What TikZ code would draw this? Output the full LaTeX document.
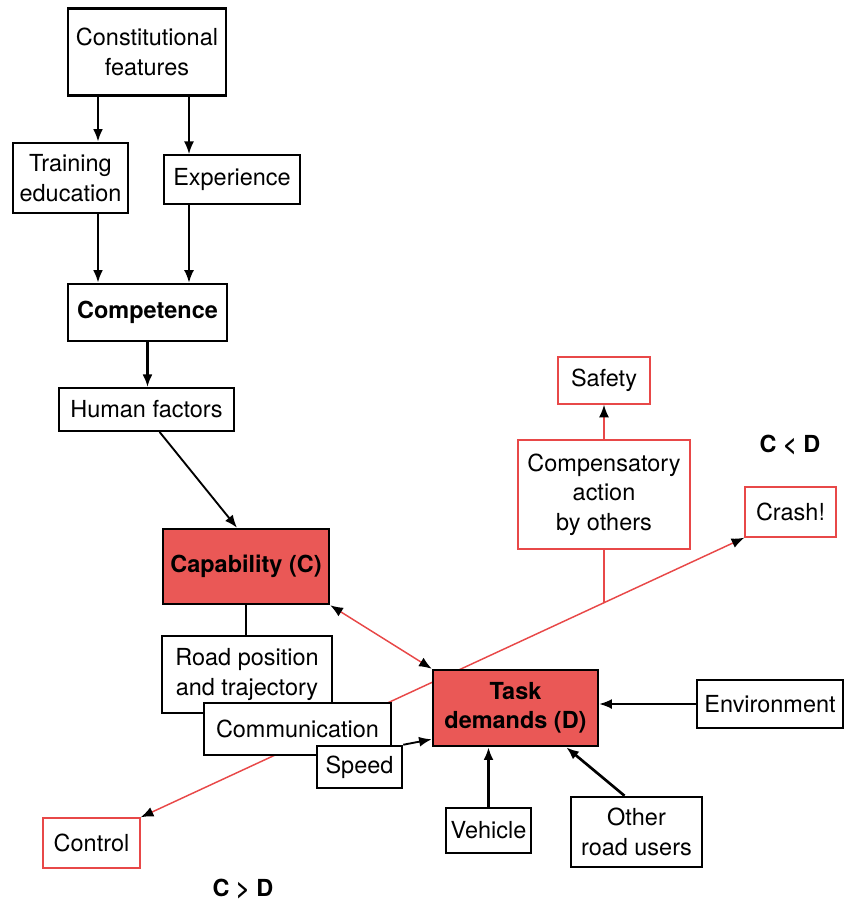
\documentclass[tikz,border=0pt]{standalone}
\usepackage{fontspec}
\setmainfont{TeX Gyre Heros}
\usetikzlibrary{arrows.meta, calc, backgrounds}

\definecolor{boxred}{RGB}{234,88,86}
\definecolor{linered}{RGB}{232,72,72}
\newcommand\diagfont{\fontsize{17.6}{22}\selectfont}

\tikzset{
  blacktip/.tip={Latex[length=9.5pt,width=7.5pt]},
  redtip/.tip={Latex[length=9.5pt,width=7.5pt,color=black]},
  sz/.style 2 args={minimum width=0.75*#1, minimum height=0.75*#2},
  box/.style={draw, fill=white, line width=1.3pt, align=center, inner sep=0pt, font=\diagfont},
  heavybox/.style={box, line width=1.9pt},
  redbox/.style={box, draw=linered, line width=1.1pt},
  keybox/.style={box, fill=boxred, line width=1.9pt, font=\diagfont\bfseries},
  flow/.style={-blacktip, line width=1.4pt},
  heavyflow/.style={-blacktip, line width=2pt},
  redline/.style={linered, line width=1.1pt},
}

\begin{document}
\begin{tikzpicture}[x=0.75pt, y=-0.75pt]
\useasboundingbox (0,0) rectangle (844,906);
\coordinate (colA) at (98,0);
\coordinate (colB) at (189,0);

% upper chain
\node[heavybox, sz={158}{87}] (const) at (147,52) {Constitutional\\features};
\node[heavybox, sz={115}{70}] (train) at (70.5,178) {Training\\education};
\node[box, sz={136}{49}] (exper) at (232,179.5) {Experience};
\node[heavybox, sz={159}{57}, font=\diagfont\bfseries] (compet) at (147.5,312.5) {Competence};
\node[box, sz={175}{43}] (human) at (146.5,409.5) {Human factors};

% capability and task demands
\node[keybox, sz={166}{75}] (capab) at (246,566.5) {Capability (C)};
\node[heavybox, sz={170}{77}] (road) at (247,674.5) {Road position\\and trajectory};
\node[heavybox, sz={187}{52}] (comm) at (297.5,729) {Communication};
\node[heavybox, sz={85}{42}] (speed) at (359.5,767) {Speed};
\node[keybox, sz={165}{76}] (task) at (515.5,708) {Task\\demands (D)};
\node[heavybox, sz={146}{48}] (env) at (770,704) {Environment};
\node[heavybox, sz={85}{45}] (vehicle) at (488.5,830.5) {Vehicle};
\node[heavybox, sz={131}{70}] (other) at (636.5,832) {Other\\road users};

% outcomes
\node[redbox, sz={92}{47}] (safety) at (604,380.5) {Safety};
\node[redbox, sz={172}{109}] (comp) at (604,494.5) {Compensatory\\action\\by others};
\node[redbox, sz={91}{50}] (crash) at (790.5,512) {Crash!};
\node[redbox, sz={97}{50}] (control) at (91.5,843) {Control};
\node[font=\diagfont\bfseries] (cltd) at (790,445) {C < D};
\node[font=\diagfont\bfseries] (cgtd) at (243,889) {C > D};

\begin{scope}[on background layer]
\draw[redline, redtip-redtip] (control.north east) -- coordinate[pos=0.767] (fork) (crash.south west);
\end{scope}
\draw[redline] (comp.south) -- (comp.south |- fork);
\draw[redline, -redtip] (comp.north) -- (safety.south);
\draw[redline, redtip-redtip] (capab.south east) -- (task.north west);

\draw[heavyflow] (const.south -| colA) -- (train.north -| colA);
\draw[flow] (const.south -| colB) -- (exper.north -| colB);
\draw[heavyflow] (train.south -| colA) -- (compet.north -| colA);
\draw[flow] (exper.south -| colB) -- (compet.north -| colB);
\draw[heavyflow] (compet.south) -- (compet.south |- human.north);
\draw[flow] ($(human.south)+(13,0)$) -- ($(capab.north)+(-9,0)$);
\draw[line width=1.9pt] (capab.south) -- (capab.south |- road.north);
\draw[flow] (speed.north east) -- ($(task.south west)+(0,-8)$);
\draw[heavyflow] (vehicle.north) -- (vehicle.north |- task.south);
\draw[heavyflow] ($(other.north)+(-12,0)$) -- ($(task.south east)+(-33,0)$);
\draw[flow] (env.west) -- (env.west -| task.east);
\end{tikzpicture}
\end{document}
